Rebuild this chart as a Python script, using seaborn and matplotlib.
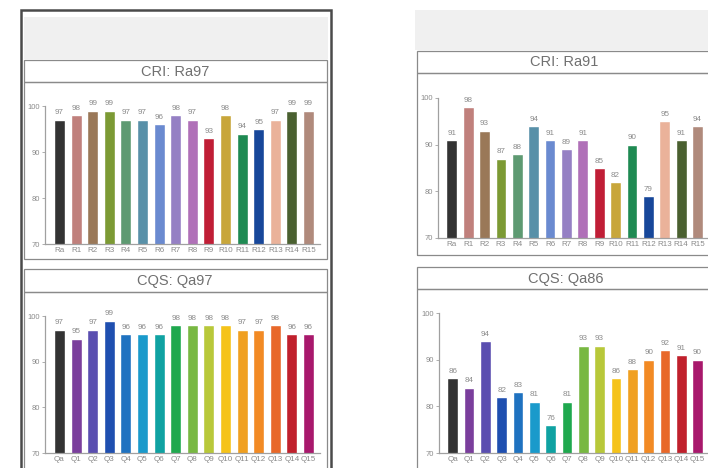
import matplotlib
matplotlib.use("Agg")
import matplotlib.pyplot as plt
from matplotlib.patches import Rectangle
import seaborn as sns
import pandas as pd

sns.set_style("white")
plt.rcParams['font.family'] = ['Liberation Sans Narrow', 'Liberation Sans', 'DejaVu Sans']

# ---------------- data ----------------
cri_labels = ["Ra", "R1", "R2", "R3", "R4", "R5", "R6", "R7", "R8", "R9",
              "R10", "R11", "R12", "R13", "R14", "R15"]
cqs_labels = ["Qa", "Q1", "Q2", "Q3", "Q4", "Q5", "Q6", "Q7", "Q8", "Q9",
              "Q10", "Q11", "Q12", "Q13", "Q14", "Q15"]

cri_left = [97, 98, 99, 99, 97, 97, 96, 98, 97, 93, 98, 94, 95, 97, 99, 99]
cqs_left = [97, 95, 97, 99, 96, 96, 96, 98, 98, 98, 98, 97, 97, 98, 96, 96]
cri_right = [91, 98, 93, 87, 88, 94, 91, 89, 91, 85, 82, 90, 79, 95, 91, 94]
cqs_right = [86, 84, 94, 82, 83, 81, 76, 81, 93, 93, 86, 88, 90, 92, 91, 90]

cri_colors = ["#333333", "#c0807c", "#9a7858", "#7c9a34", "#5e9a72", "#5890a8",
              "#6a8ad0", "#9580c4", "#b070b8", "#c01e36", "#c8a63a", "#1e8a52",
              "#17479a", "#eab29a", "#4a6030", "#b08a7c"]
cqs_colors = ["#333333", "#7a3e9c", "#5a4eb0", "#1f4fb0", "#1f72c0", "#1a9acb",
              "#10a2a2", "#1fa84e", "#78b842", "#b8c83a", "#f5c31a", "#f0a021",
              "#f28a24", "#e8682a", "#c0202c", "#a8186c"]

titles = ["CRI: Ra97", "CQS: Qa97", "CRI: Ra91", "CQS: Qa86"]
yticks = [70, 80, 90, 100]

# ---------------- figure ----------------
W, H = 708, 468
fig = plt.figure(figsize=(W / 100, H / 100), dpi=100)
fig.patch.set_facecolor("white")


def rect(x0, y0, x1, y1, fc="none", ec="#8a8a8a", lw=0.9, z=0):
    fig.add_artist(Rectangle((x0 / W, 1 - y1 / H), (x1 - x0) / W, (y1 - y0) / H,
                             transform=fig.transFigure, facecolor=fc,
                             edgecolor=ec, linewidth=lw, zorder=z))


def add_ax(x0, x1, ytop, ybot):
    return fig.add_axes([x0 / W, 1 - ybot / H, (x1 - x0) / W, (ybot - ytop) / H])


# left panel frames
rect(21, 10, 331, 480, fc="white", ec="#4a4a4a", lw=1.8)
rect(24, 17, 328, 59, fc="#f0f0f0", ec="none")
rect(24, 60, 327, 82)
rect(24, 82, 327, 259)
rect(24, 269, 327, 292)
rect(24, 292, 327, 480)

# right panel frames
rect(415, 10, 712, 50, fc="#f0f0f0", ec="none")
rect(417, 51, 712, 73)
rect(417, 73, 712, 255)
rect(417, 267, 712, 289)
rect(417, 289, 712, 480)

title_pos = [(175, 71.5), (175, 281), (564, 62.5), (566, 278.5)]
for t, (tx, ty) in zip(titles, title_pos):
    fig.text(tx / W, 1 - ty / H, t, ha="center", va="center",
             fontsize=10.5, color="#707070")

axes_specs = [
    (45, 320, 106, 244, cri_labels, cri_left, cri_colors, (-0.87, 15.69)),
    (45, 320, 316, 453, cqs_labels, cqs_left, cqs_colors, (-0.87, 15.69)),
    (438, 708, 98, 238, cri_labels, cri_right, cri_colors, (-0.84, 15.64)),
    (439, 708, 313, 453, cqs_labels, cqs_right, cqs_colors, (-0.84, 15.64)),
]

for x0, x1, yt, yb, labels, vals, cols, xl in axes_specs:
    ax = add_ax(x0, x1, yt, yb)
    ax.set_facecolor("none")
    df = pd.DataFrame({"cat": labels, "val": vals})
    sns.barplot(data=df, x="cat", y="val", hue="cat", order=labels,
                hue_order=labels, palette=dict(zip(labels, cols)),
                legend=False, width=0.66, saturation=1, ax=ax)
    ax.set_ylim(70, 100)
    ax.set_xlim(*xl)
    ax.set_yticks(yticks)
    ax.set_xlabel("")
    ax.set_ylabel("")
    for s in ["top", "right"]:
        ax.spines[s].set_visible(False)
    for s in ["left", "bottom"]:
        ax.spines[s].set_color("#a0a0a0")
        ax.spines[s].set_linewidth(0.9)
    ax.tick_params(axis="y", length=2.5, width=0.6, color="#a0a0a0",
                   labelsize=5.5, labelcolor="#8a8a8a", pad=1)
    ax.tick_params(axis="x", length=0, labelsize=5.8, labelcolor="#8a8a8a", pad=2)
    ax.tick_params(axis="y", left=True)
    for i, v in enumerate(vals):
        ax.annotate(str(v), (i, v), xytext=(0, 2.5), textcoords="offset points",
                    ha="center", va="bottom", fontsize=5.8, color="#8a8a8a",
                    annotation_clip=False)

fig.savefig("out.png", dpi=100, facecolor="white")
